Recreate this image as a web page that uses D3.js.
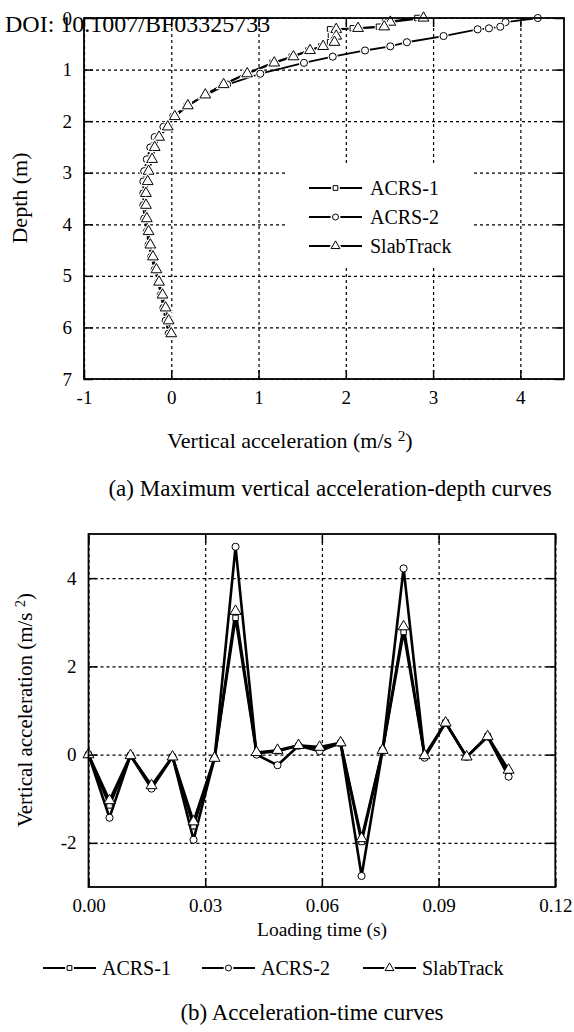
<!DOCTYPE html>
<html lang="en">
<head>
<meta charset="UTF-8">
<title>Vertical acceleration curves</title>
<script src="https://d3js.org/d3.v7.min.js"></script>
<style>
  body { margin: 0; background: #fff; }
  svg { display: block; font-family: "Liberation Serif", "Times New Roman", serif; }
  .grid line { stroke: #000; stroke-width: 1.2; stroke-dasharray: 3,3; }
  .grid .domain { display: none; }
  .ax .domain { display: none; }
  .ax line { stroke: #000; stroke-width: 1.5; }
  .ax text { font-size: 19px; fill: #000; font-family: "Liberation Serif", serif; }
</style>
</head>
<body>
<svg id="chart" width="574" height="1032"></svg>
<script>
// ---- (a) max vertical acceleration vs depth ----
const depths = [0, 0.08, 0.17, 0.20, 0.22, 0.35, 0.47, 0.55, 0.63, 0.75, 0.87, 1.08, 1.29, 1.49, 1.70, 1.91,
  2.11, 2.31, 2.51, 2.74, 2.97, 3.17, 3.40, 3.63, 3.89, 4.14, 4.40, 4.63, 4.88, 5.12, 5.37, 5.62, 5.87, 6.12];
const acrs1Depth = [2.82, 2.45, 2.38, 2.08, 1.82, 1.83, 1.82, 1.72, 1.57, 1.38, 1.16, 0.86, 0.59, 0.39, 0.19, 0.04,
  -0.04, -0.14, -0.19, -0.22, -0.26, -0.27, -0.29, -0.29, -0.28, -0.26, -0.24, -0.21, -0.17, -0.14, -0.10, -0.065, -0.03, 0.0];
const acrs2Depth = [4.20, 3.83, 3.77, 3.64, 3.51, 3.12, 2.70, 2.51, 2.22, 1.85, 1.52, 1.02, 0.64, 0.40, 0.18, 0.02,
  -0.09, -0.19, -0.24, -0.28, -0.31, -0.32, -0.32, -0.32, -0.31, -0.28, -0.26, -0.23, -0.19, -0.15, -0.12, -0.09, -0.065, -0.03];
const slabDepth = [2.89, 2.51, 2.44, 2.14, 1.89, 1.89, 1.87, 1.74, 1.59, 1.40, 1.18, 0.87, 0.60, 0.39, 0.19, 0.04,
  -0.04, -0.14, -0.19, -0.22, -0.26, -0.27, -0.29, -0.29, -0.28, -0.26, -0.24, -0.21, -0.17, -0.14, -0.10, -0.065, -0.03, 0.0];

// ---- (b) acceleration vs loading time ----
const times = [0, 0.0054, 0.0108, 0.0162, 0.0216, 0.027, 0.0324, 0.0378, 0.0432, 0.0486, 0.054,
  0.0594, 0.0648, 0.0702, 0.0756, 0.081, 0.0864, 0.0918, 0.0972, 0.1026, 0.108];
const acrs1Time = [0, -1.15, -0.02, -0.72, -0.05, -1.62, -0.08, 3.10, 0.03, 0.08, 0.20, 0.15, 0.26, -1.98, 0.10, 2.78, -0.03, 0.73, -0.05, 0.42, -0.38];
const acrs2Time = [0, -1.43, -0.02, -0.77, -0.05, -1.93, -0.08, 4.71, 0.00, -0.24, 0.20, 0.08, 0.26, -2.75, 0.10, 4.22, -0.07, 0.72, -0.05, 0.41, -0.50];
const slabTime  = [0, -1.04, -0.02, -0.70, -0.05, -1.52, -0.08, 3.25, 0.05, 0.10, 0.21, 0.17, 0.27, -1.90, 0.10, 2.90, -0.02, 0.72, -0.05, 0.41, -0.35];

const seriesNames = ["ACRS-1", "ACRS-2", "SlabTrack"];
const accTicksA = [-1, 0, 1, 2, 3, 4];
const depthTicks = [0, 1, 2, 3, 4, 5, 6, 7];
const timeTicks = [0, 0.03, 0.06, 0.09, 0.12];
const accTicksB = [-2, 0, 2, 4];

const svg = d3.select("#chart");
const symbolTypes = [d3.symbolSquare, d3.symbolCircle, d3.symbolTriangle];
// plain hyphen for negatives, like the original figure
const intFmt = d => (d < 0 ? "-" : "") + Math.abs(d);

function marker(g, type, size, cx, cy, halo) {
  const p = d3.symbol().type(type).size(size)();
  if (halo > 0) {
    g.append("path").attr("d", p).attr("transform", `translate(${cx},${cy})`)
      .attr("fill", "#fff").attr("stroke", "#fff").attr("stroke-width", halo);
  }
  g.append("path").attr("d", p).attr("transform", `translate(${cx},${cy})`)
    .attr("fill", "#fff").attr("stroke", "#000").attr("stroke-width", 1);
}

// dotted grid inside the plot box
function frame(x, y, xTicks, yTicks) {
  const [x0, x1] = x.range(), [y1, y0] = y.range().slice().sort((a, b) => b - a);
  const g = svg.append("g");
  g.append("g").attr("class", "grid").attr("transform", `translate(0,${y1})`)
    .call(d3.axisBottom(x).tickValues(xTicks).tickSize(-(y1 - y0)).tickFormat(""));
  g.append("g").attr("class", "grid").attr("transform", `translate(${x0},0)`)
    .call(d3.axisLeft(y).tickValues(yTicks).tickSize(-(x1 - x0)).tickFormat(""));
  return { g, x0, x1, y0, y1 };
}

// inward ticks on all four sides + border
function ticksAndBorder(f, x, y, xTicks, yTicks, xFmt, yFmt) {
  const g = svg.append("g");
  g.append("g").attr("class", "ax").attr("transform", `translate(0,${f.y1})`)
    .call(d3.axisBottom(x).tickValues(xTicks).tickSize(-9).tickPadding(12).tickFormat(xFmt));
  g.append("g").attr("class", "ax").attr("transform", `translate(0,${f.y0})`)
    .call(d3.axisTop(x).tickValues(xTicks).tickSize(-9).tickFormat(""));
  g.append("g").attr("class", "ax").attr("transform", `translate(${f.x0},0)`)
    .call(d3.axisLeft(y).tickValues(yTicks).tickSize(-9).tickPadding(12).tickFormat(yFmt));
  g.append("g").attr("class", "ax").attr("transform", `translate(${f.x1},0)`)
    .call(d3.axisRight(y).tickValues(yTicks).tickSize(-9).tickFormat(""));
  g.append("rect").attr("x", f.x0).attr("y", f.y0).attr("width", f.x1 - f.x0).attr("height", f.y1 - f.y0)
    .attr("fill", "none").attr("stroke", "#000").attr("stroke-width", 1.8);
}

function label(x, y, txt, size, rotate) {
  const t = svg.append("text").attr("font-size", size).attr("text-anchor", "middle")
    .attr("transform", `translate(${x},${y})` + (rotate ? " rotate(-90)" : ""));
  return t.text(txt);
}

function accLabel(x, y, size, rotate) {
  const t = svg.append("text").attr("font-size", size).attr("text-anchor", "middle")
    .attr("transform", `translate(${x},${y})` + (rotate ? " rotate(-90)" : ""));
  t.append("tspan").text("Vertical acceleration (m/s ");
  t.append("tspan").attr("font-size", size * 0.7).attr("dy", -7).text("2");
  t.append("tspan").attr("dy", 7).text(")");
}

// ================= panel (a) =================
const xa = d3.scaleLinear().domain([-1, 4.5]).range([84, 564]);
const ya = d3.scaleLinear().domain([0, 7]).range([18, 379]);
const fa = frame(xa, ya, accTicksA, depthTicks);

// legend box covers the grid
svg.append("rect").attr("x", 288).attr("y", 163).attr("width", 185).attr("height", 104).attr("fill", "#fff");

const depthSeries = [acrs1Depth, acrs2Depth, slabDepth];
const lineA = d3.line().x(d => xa(d[0])).y(d => ya(d[1]));
const gA = svg.append("g");
depthSeries.forEach(vals => {
  gA.append("path").attr("d", lineA(vals.map((v, k) => [v, depths[k]])))
    .attr("fill", "none").attr("stroke", "#000").attr("stroke-width", 1.8);
});
const sizesA = [30, 40, 50];
depthSeries.forEach((vals, i) => {
  vals.forEach((v, k) => marker(gA, symbolTypes[i], sizesA[i], xa(v), ya(depths[k]), 3));
});
ticksAndBorder(fa, xa, ya, accTicksA, depthTicks, intFmt, intFmt);

// legend (a)
const legA = svg.append("g");
seriesNames.forEach((name, i) => {
  const ly = 188 + i * 29;
  legA.append("line").attr("x1", 309).attr("x2", 362).attr("y1", ly).attr("y2", ly)
    .attr("stroke", "#000").attr("stroke-width", 2);
  marker(legA, symbolTypes[i], [22, 28, 34][i], 335.5, ly, 4);
  legA.append("text").attr("x", 370).attr("y", ly).attr("dy", "0.35em")
    .attr("font-size", 20).text(name);
});

accLabel(290, 448, 22, false);
label(27, 198, "Depth (m)", 22, true);
label(330, 496, "(a)  Maximum vertical acceleration-depth curves", 23, false);

// ================= panel (b) =================
const xb = d3.scaleLinear().domain([0, 0.12]).range([88.5, 555.3]);
const yb = d3.scaleLinear().domain([-3, 5]).range([887, 534]);
const fb = frame(xb, yb, timeTicks, accTicksB);

const timeSeries = [acrs1Time, acrs2Time, slabTime];
const lineB = d3.line().x((d, k) => xb(times[k])).y(d => yb(d));
const gB = svg.append("g");
timeSeries.forEach(vals => {
  gB.append("path").attr("d", lineB(vals)).attr("fill", "none")
    .attr("stroke", "#000").attr("stroke-width", 2.6).attr("stroke-linejoin", "miter");
});
const sizesB = [30, 40, 52];
timeSeries.forEach((vals, i) => {
  vals.forEach((v, k) => marker(gB, symbolTypes[i], sizesB[i], xb(times[k]), yb(v), 0));
});
ticksAndBorder(fb, xb, yb, timeTicks, accTicksB, d3.format(".2f"), intFmt);

accLabel(32, 710, 21, true);
label(322, 936, "Loading time (s)", 19.5, false);

// legend (b)
const legB = svg.append("g");
const legBX = [43, 202, 363];
seriesNames.forEach((name, i) => {
  const lx = legBX[i], ly = 968;
  legB.append("line").attr("x1", lx).attr("x2", lx + 53).attr("y1", ly).attr("y2", ly)
    .attr("stroke", "#000").attr("stroke-width", 2);
  marker(legB, symbolTypes[i], [22, 28, 34][i], lx + 26.5, ly, 4);
  legB.append("text").attr("x", lx + 59).attr("y", ly).attr("dy", "0.35em")
    .attr("font-size", 20).text(name);
});
label(312, 1020, "(b)  Acceleration-time curves", 23, false);

// DOI stamp
svg.append("text").attr("x", 5).attr("y", 32).attr("font-size", 24).text("DOI: 10.1007/BF03325733");
</script>
</body>
</html>
